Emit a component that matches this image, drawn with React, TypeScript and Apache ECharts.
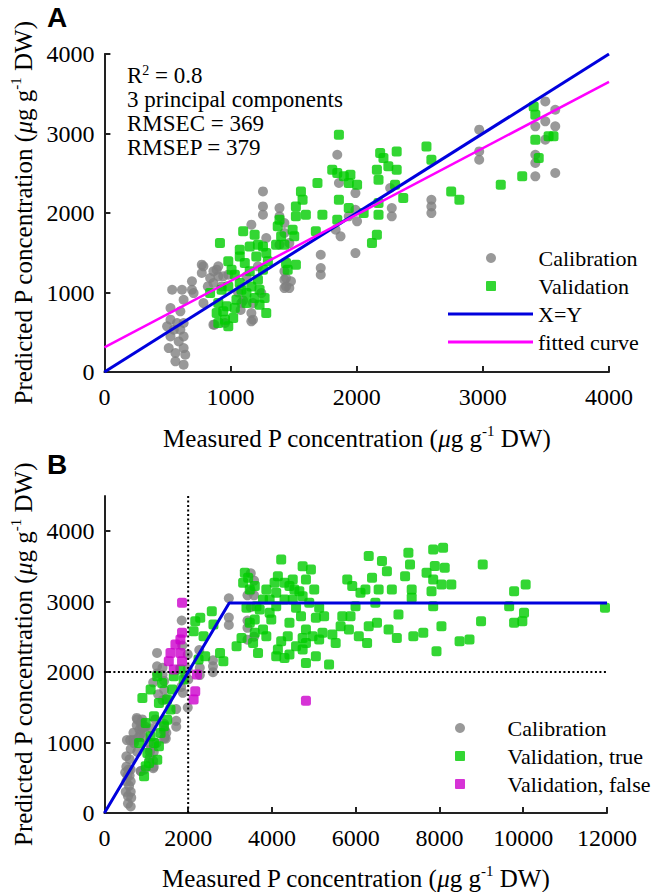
import React, { useEffect, useRef } from "react";
import * as echarts from "echarts";

// ---------- data ----------
const calibration: number[][] = [
  [537, 1035], [615, 1035], [694, 1140], [694, 1035], [628, 909], [524, 805], [602, 763], [524, 658],
  [628, 616], [550, 532], [628, 448], [524, 448], [589, 385], [510, 301], [628, 301], [563, 239],
  [641, 218], [563, 134], [628, 92], [576, 616], [497, 574], [602, 532],
  [772, 1350], [772, 1245], [864, 1266], [903, 1329], [903, 1203], [864, 1119], [929, 1077], [785, 867],
  [864, 595], [956, 616], [838, 1182], [982, 1224],
  [1257, 2272], [1257, 2083], [1257, 1979], [1165, 1853], [1283, 1685], [1178, 867], [1178, 658],
  [1086, 867], [1244, 993], [1126, 1203], [1217, 1329],
  [1388, 2062], [1388, 1958], [1427, 1874], [1427, 1748], [1466, 1622], [1427, 1266], [1427, 1161],
  [1466, 1056], [1427, 1056], [1479, 1140], [1388, 1601],
  [1846, 2733], [1859, 2377], [1715, 1475], [1715, 1308], [1715, 1224], [1833, 1790], [1872, 1706],
  [1990, 2251], [1990, 2041], [2003, 1895], [1990, 1496], [1937, 1958],
  [2265, 2314], [2278, 2062], [2278, 1958],
  [2592, 2167], [2592, 2083], [2592, 1999],
  [2971, 3048], [2971, 2775], [2971, 2670],
  [3495, 3404], [3416, 3090], [3495, 3153], [3574, 3299], [3574, 3090], [3416, 2733], [3416, 2629],
  [3416, 2461], [3574, 2503], [3495, 2922],
  [942, 1203], [707, 993], [1060, 1000], [1100, 900], [1080, 780], [1165, 742], [873, 595], [820, 1077],
  [890, 1287], [785, 1329], [1165, 637], [1440, 1077], [1440, 1182],
];

const validationA: number[][] = [
  [916, 1622], [982, 1392], [1073, 1538], [1100, 1769], [1191, 1727], [1217, 1601], [1152, 1580],
  [1034, 1224], [1113, 1371], [1073, 1454], [1008, 1287], [929, 1035], [838, 993], [982, 1077],
  [903, 867], [969, 826], [890, 742], [956, 658], [903, 616], [982, 574], [1021, 679], [1047, 909],
  [1086, 1035], [1126, 993], [1165, 1077], [1191, 930], [1230, 1035], [1270, 930], [1283, 742],
  [1217, 1161], [1257, 1287], [1296, 1392], [1283, 1496], [1257, 1580], [1204, 1454], [1152, 1266],
  [1073, 1119], [1126, 867], [1034, 805], [942, 763], [1230, 846],
  [1388, 1916], [1374, 1832], [1401, 1706], [1361, 1601], [1427, 1601], [1518, 1958], [1558, 2272],
  [1571, 2167], [1518, 2083], [1597, 1979], [1492, 1790], [1505, 1706], [1440, 1371], [1518, 1350],
  [1453, 1287], [1676, 1769], [1689, 2377], [1728, 1979],
  [1859, 2985], [1806, 2545], [1846, 2503], [1898, 2461], [1950, 2482], [1937, 2377], [2003, 2356],
  [1859, 2167], [1846, 1916], [1937, 2062], [2055, 2000], [2121, 1622], [2160, 1727],
  [2186, 2754], [2212, 2691], [2317, 2775], [2160, 2545], [2251, 2587], [2317, 2545], [2173, 2419],
  [2304, 2356], [2173, 2126], [2173, 1979], [2369, 2188],
  [2553, 2838], [2592, 2670], [2749, 2272], [2814, 2167],
  [3142, 2356], [3312, 2461], [3403, 3341], [3416, 3237], [3416, 2922], [3521, 2964], [3560, 2964],
  [3443, 2691],
];

const validationTrue: number[][] = [
  [947, 520], [986, 662], [828, 994], [1026, 852], [1262, 757], [1302, 947], [1104, 1089], [1341, 1136],
  [986, 1278], [1499, 1325], [1183, 1373], [907, 1633], [1104, 1752], [1302, 1562], [1499, 1610],
  [1617, 1752], [1381, 1847], [1657, 1941], [1815, 2036], [1893, 1894], [1420, 1231], [1578, 1468],
  [1183, 994], [1065, 710], [1262, 1941],
  [2169, 2723], [2288, 2770], [2130, 2581], [2367, 2510], [2564, 2865], [2603, 2676], [2406, 2225],
  [2761, 2273], [2840, 2155], [2248, 2178],
  [3156, 2368], [3274, 2486], [3432, 3339], [3471, 3173], [3392, 2912], [3471, 2699], [3590, 2557],
  [3668, 2273], [3708, 2889], [3866, 3173], [3945, 3031], [3984, 2747], [4102, 3126], [4221, 3599],
  [4142, 3362], [4300, 3268], [4418, 3221], [4536, 3173], [4102, 2225], [4300, 2202], [4221, 2439],
  [4378, 2510], [4418, 2699], [4576, 2912], [4733, 3504], [4931, 3457], [4812, 3315], [5010, 3173],
  [4733, 3078], [4891, 2983], [5128, 2912], [4694, 2794], [4812, 2605], [5049, 2770], [5246, 2794],
  [4576, 2368], [4812, 2415], [4970, 2510], [5128, 2462], [4812, 2131], [5364, 2107], [5443, 2533],
  [5522, 2415], [5640, 2652], [5680, 2794], [5798, 3315], [5917, 3221], [5996, 2936], [5877, 2794],
  [5838, 2605], [6074, 2510], [6272, 2415], [6114, 3126], [6232, 3173], [6311, 3647], [6390, 3339],
  [6627, 3576], [6548, 3173], [6745, 3433], [6863, 3173], [6469, 2983], [6311, 2652], [6508, 2699],
  [6785, 2605], [6982, 2486], [7021, 2818], [7258, 3694], [7297, 3528], [7179, 3362], [7337, 3173],
  [7337, 3055], [7376, 2510], [7613, 2557], [7692, 3410], [7850, 3741], [8086, 3765], [7889, 3505],
  [8126, 3481], [7850, 3315], [8047, 3244], [7810, 3149], [7850, 2936], [8283, 3244], [8047, 2652],
  [7929, 2297], [8480, 2439], [8717, 2462], [8993, 2723], [9033, 3528], [9664, 2936], [9782, 3149],
  [9782, 2699], [10019, 2841], [10058, 3244], [9979, 2723], [11952, 2912],
  [3313, 3268], [3787, 2605], [3629, 2936], [4102, 2936], [4497, 3031],
  [3353, 3410], [3590, 3221], [3787, 3031], [3945, 2841], [4063, 3268], [4300, 3031], [4497, 3315],
  [4655, 3149], [3550, 2415], [3866, 2510], [4142, 2320], [4418, 2249], [4733, 2320], [5049, 2225],
  [5207, 2557], [3590, 2747], [4733, 2486],
];

const validationFalse: number[][] = [
  [1854, 2983], [1854, 2557], [1815, 2462], [1696, 2391], [1578, 2273], [1815, 2273], [1538, 2155],
  [1657, 2036], [1854, 2155], [2209, 1965], [2169, 1728], [2130, 1610], [4812, 1595],
];

const identityA: number[][] = [[0, 0], [4000, 4000]];
const fittedA: number[][] = [[0, 310], [4000, 3650]];
const brokenLineB: number[][] = [[0, 0], [2980, 2980], [12000, 2980]];
const thresholdVertical: number[][] = [[2000, 0], [2000, 4500]];
const thresholdHorizontal: number[][] = [[0, 2000], [12000, 2000]];

const ticksA = [0, 1000, 2000, 3000, 4000];
const ticksBx = [0, 2000, 4000, 6000, 8000, 10000, 12000];
const ticksBy = [0, 1000, 2000, 3000, 4000];

const statsLines = ["3 principal components", "RMSEC = 369", "RMSEP = 379"];
const legendAPoints = ["Calibration", "Validation"];
const legendALines = ["X=Y", "fitted curve"];
const legendB = ["Calibration", "Validation, true", "Validation, false"];

// ---------- styles ----------
const serif = "serif";
const sans = "sans-serif";
const GRAY = "#808080";
const GREEN = "#00cc00";
const MAGENTA_PT = "#cc00cc";
const MAGENTA_LN = "#ff00ff";
const BLUE = "#0000dd";
const AXIS = "#222";
const SQUARE = "path://M1,0L9,0Q10,0 10,1L10,9Q10,10 9,10L1,10Q0,10 0,9L0,1Q0,0 1,0Z";

const nameRich = {
  n: { fontFamily: serif, fontSize: 25, color: "#000", lineHeight: 30 },
  i: { fontFamily: serif, fontSize: 25, color: "#000", fontStyle: "italic", lineHeight: 30 },
  s: { fontFamily: serif, fontSize: 15, color: "#000", verticalAlign: "top", lineHeight: 16 },
};
const measuredName = "{n|Measured P concentration (}{i|μ}{n|g g}{s|-1}{n| DW)}";
const predictedName = "{n|Predicted P concentration (}{i|μ}{n|g g}{s|-1}{n| DW)}";

function makeAxis(gridIndex: number, min: number, max: number, interval: number, ticks: number[], isX: boolean, name: string, gap: number) {
  return {
    type: "value",
    gridIndex,
    min,
    max,
    interval,
    name,
    nameLocation: "middle",
    nameGap: gap,
    nameTextStyle: { fontFamily: serif, rich: nameRich },
    axisLine: { show: true, onZero: false, lineStyle: { color: AXIS, width: 2 } },
    axisTick: { show: true, inside: true, length: 6, customValues: ticks, lineStyle: { color: AXIS, width: 2 } },
    axisLabel: {
      customValues: ticks,
      formatter: (v: number) => String(v),
      fontFamily: serif,
      fontSize: 24,
      color: "#000",
      margin: isX ? 13 : 10,
    },
    splitLine: { show: false },
  };
}

export default function App() {
  const ref = useRef<HTMLDivElement>(null);
  useEffect(() => {
    if (!ref.current) return;
    const chart = echarts.init(ref.current, undefined, { renderer: "svg" });
    const legendCommon = {
      orient: "vertical",
      padding: 0,
      itemWidth: 85,
      itemHeight: 10,
      itemGap: 6,
      selectedMode: false,
      symbolKeepAspect: true,
      textStyle: { fontFamily: serif, fontSize: 22, color: "#000", lineHeight: 22 },
    };
    const statsText =
      "{n|R}{s|2}{n| = 0.8}\n" + statsLines.map((t) => `{n|${t}}`).join("\n");
    const option: any = {
      animation: false,
      backgroundColor: "#fff",
      textStyle: { fontFamily: serif },
      grid: [
        { left: 100, top: 54, width: 509, height: 318 },
        { left: 100, top: 496, width: 507, height: 317 },
      ],
      xAxis: [
        makeAxis(0, 0, 4000, 1000, ticksA, true, measuredName, 51),
        makeAxis(1, 0, 12000, 2000, ticksBx, true, measuredName, 50),
      ],
      yAxis: [
        makeAxis(0, 0, 4000, 1000, ticksA, false, predictedName, 64),
        makeAxis(1, 0, 4500, 1000, ticksBy, false, predictedName, 64),
      ],
      legend: [
        {
          ...legendCommon,
          data: [
            { name: legendAPoints[0], icon: "circle" },
            { name: legendAPoints[1], icon: SQUARE },
          ],
          left: 486,
          top: 247,
        },
        {
          ...legendCommon,
          itemHeight: 3,
          data: legendALines.map((n) => ({ name: n, icon: "rect" })),
          left: 448,
          top: 303,
        },
        {
          ...legendCommon,
          data: [
            { name: legendB[0], icon: "circle" },
            { name: legendB[1], icon: SQUARE },
            { name: legendB[2], icon: SQUARE },
          ],
          left: 455,
          top: 717,
        },
      ],
      graphic: [
        {
          type: "text", x: 47, y: 17,
          style: { text: "A", fontFamily: sans, fontWeight: "bold", fontSize: 28, fill: "#000", verticalAlign: "middle", textVerticalAlign: "middle" },
        },
        {
          type: "text", x: 47, y: 464,
          style: { text: "B", fontFamily: sans, fontWeight: "bold", fontSize: 28, fill: "#000", verticalAlign: "middle", textVerticalAlign: "middle" },
        },
        {
          type: "text",
          x: 127,
          y: 63,
          style: {
            text: statsText,
            fontFamily: serif,
            fontSize: 23,
            verticalAlign: "top",
            textVerticalAlign: "top",
            rich: {
              n: { fontFamily: serif, fontSize: 23, fill: "#000", color: "#000", lineHeight: 24 },
              s: { fontFamily: serif, fontSize: 14, fill: "#000", color: "#000", verticalAlign: "top", lineHeight: 10 },
            },
          },
        },
      ],
      series: [
        { name: "Calibration", type: "scatter", xAxisIndex: 0, yAxisIndex: 0, symbol: "circle", symbolSize: 10, color: GRAY, itemStyle: { color: GRAY }, data: calibration, z: 2 },
        { name: "Validation", type: "scatter", xAxisIndex: 0, yAxisIndex: 0, symbol: "roundRect", symbolSize: 10, color: GREEN, itemStyle: { color: GREEN }, data: validationA, z: 3 },
        { name: "X=Y", type: "line", xAxisIndex: 0, yAxisIndex: 0, symbol: "none", showSymbol: false, color: BLUE, itemStyle: { color: BLUE }, lineStyle: { color: BLUE, width: 3 }, data: identityA, z: 5 },
        { name: "fitted curve", type: "line", xAxisIndex: 0, yAxisIndex: 0, symbol: "none", showSymbol: false, color: MAGENTA_LN, itemStyle: { color: MAGENTA_LN }, lineStyle: { color: MAGENTA_LN, width: 2.5 }, data: fittedA, z: 5 },
        { name: "Calibration", type: "scatter", xAxisIndex: 1, yAxisIndex: 1, symbol: "circle", symbolSize: 10, color: GRAY, itemStyle: { color: GRAY }, data: calibration, z: 2 },
        { name: "Validation, true", type: "scatter", xAxisIndex: 1, yAxisIndex: 1, symbol: "roundRect", symbolSize: 10, color: GREEN, itemStyle: { color: GREEN }, data: validationTrue, z: 3 },
        { name: "Validation, false", type: "scatter", xAxisIndex: 1, yAxisIndex: 1, symbol: "roundRect", symbolSize: 10, color: MAGENTA_PT, itemStyle: { color: MAGENTA_PT }, data: validationFalse, z: 4 },
        { name: "threshold x", type: "line", xAxisIndex: 1, yAxisIndex: 1, symbol: "none", showSymbol: false, color: "#000", lineStyle: { color: "#000", width: 2, type: [2, 2.5] }, data: thresholdVertical, z: 5 },
        { name: "threshold y", type: "line", xAxisIndex: 1, yAxisIndex: 1, symbol: "none", showSymbol: false, color: "#000", lineStyle: { color: "#000", width: 2, type: [2, 2.5] }, data: thresholdHorizontal, z: 5 },
        { name: "segmented model", type: "line", xAxisIndex: 1, yAxisIndex: 1, symbol: "none", showSymbol: false, color: BLUE, lineStyle: { color: BLUE, width: 3 }, data: brokenLineB, z: 6 },
      ],
    };
    chart.setOption(option);
    return () => chart.dispose();
  }, []);
  return <div ref={ref} style={{ position: "absolute", left: 0, top: 0, width: 658, height: 892 }} />;
}
